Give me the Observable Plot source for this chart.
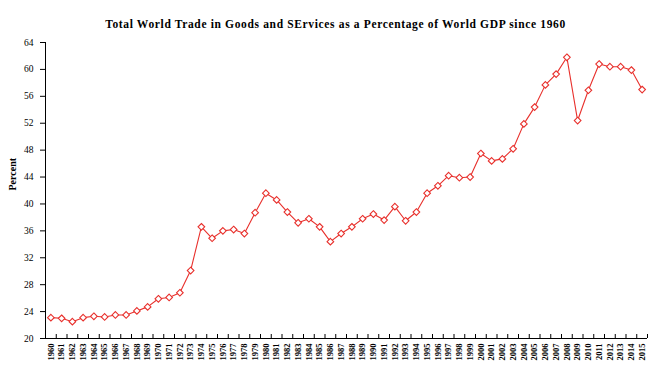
<!DOCTYPE html>
<html>
<head>
<meta charset="utf-8">
<script src="https://cdn.jsdelivr.net/npm/d3@7"></script>
<script src="https://cdn.jsdelivr.net/npm/@observablehq/plot@0.6"></script>
<style>
  body { margin: 0; background: #fff; }
</style>
</head>
<body>
<div id="chart"></div>
<script>
const years = d3.range(1960, 2016);
const tradePct = [
  23.1, 23.0, 22.5, 23.1, 23.3, 23.2, 23.5, 23.5, 24.1, 24.7,
  25.9, 26.1, 26.8, 30.1, 36.6, 34.9, 36.0, 36.2, 35.6, 38.7,
  41.6, 40.6, 38.8, 37.2, 37.8, 36.6, 34.4, 35.6, 36.6, 37.8,
  38.5, 37.6, 39.6, 37.5, 38.8, 41.6, 42.7, 44.2, 43.9, 44.0,
  47.5, 46.4, 46.7, 48.2, 51.9, 54.4, 57.7, 59.3, 61.8, 52.4,
  56.9, 60.8, 60.4, 60.4, 59.9, 57.0
];
const yTicks = d3.range(20, 65, 4);
const titleText = "Total World Trade in Goods and SErvices as a Percentage of World GDP since 1960";
const yLabel = "Percent";

const data = years.map((y, i) => ({year: y, value: tradePct[i]}));
const boundaries = years.map(y => y - 0.5).concat([years[years.length - 1] + 0.5]);
const red = "#e8302c";
const font = "'Liberation Serif', 'Times New Roman', serif";

const chart = Plot.plot({
  width: 660,
  height: 371,
  marginLeft: 45,
  marginRight: 13,
  marginTop: 42,
  marginBottom: 33,
  style: {fontFamily: font, background: "#fff", color: "#000"},
  x: {domain: [years[0] - 0.5, years[years.length - 1] + 0.5]},
  y: {domain: [20, 64]},
  marks: [
    Plot.axisY({ticks: yTicks, tickSize: 5, tickPadding: 7, label: null, fontSize: 9.5, tickFormat: d => d}),
    Plot.axisX({ticks: years, tickSize: 0, tickPadding: 5, tickRotate: -90, label: null, fontSize: 8.5, fontWeight: "bold", tickFormat: d => String(d)}),
    Plot.ruleX(boundaries, {x: d => d, y1: 20, y2: 20, insetTop: -4, stroke: "#000"}),
    Plot.ruleY([20], {stroke: "#000"}),
    Plot.ruleX([years[0] - 0.5], {stroke: "#000"}),
    Plot.line(data, {x: "year", y: "value", stroke: red, strokeWidth: 1.1}),
    Plot.dot(data, {x: "year", y: "value", symbol: "diamond2", r: 3, stroke: red, fill: "#fff", strokeWidth: 1.1}),
    Plot.text([yLabel], {text: d => d, frameAnchor: "left", dx: -33, rotate: -90, fontWeight: "bold", fontSize: 10}),
    Plot.text([titleText], {text: d => d, frameAnchor: "top", dx: -11, dy: -23, fontWeight: "bold", fontSize: 11.5})
  ]
});
d3.select(chart).selectAll("text")
  .filter(function() { return this.textContent === titleText; })
  .attr("letter-spacing", "0.65px");
document.getElementById("chart").appendChild(chart);
</script>
</body>
</html>
